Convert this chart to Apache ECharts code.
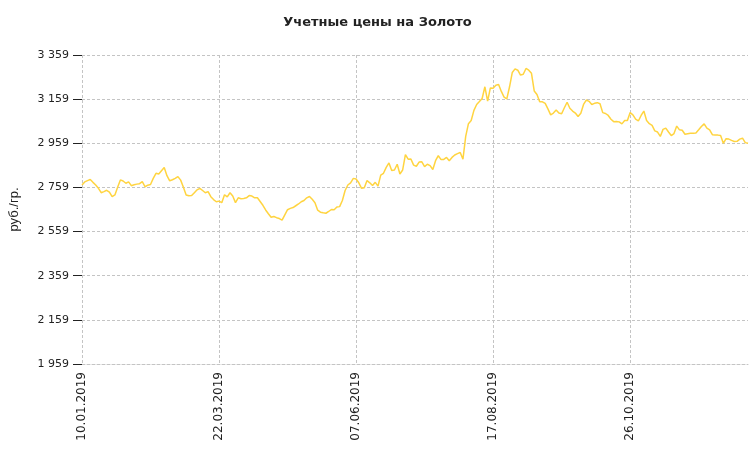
<!DOCTYPE html>
<html>
<head>
<meta charset="utf-8">
<script src="https://cdn.jsdelivr.net/npm/echarts@6/dist/echarts.min.js"></script>
<style>
html,body{margin:0;padding:0;background:#fff;}
#chart{width:755px;height:449px;}
</style>
</head>
<body>
<div id="chart"></div>
<script>
// Title / axis texts
const chartTitle = 'Учетные цены на Золото';
const yAxisName = 'руб./гр.';

// Tick settings
const yMin = 1959;
const yMax = 3359;
const yStep = 200;
const xLabelEvery = 50;

// Trading calendar (dates are effective dates = trading day + 1)
const firstTradingDay = '2019-01-09';
const holidays = ['2019-03-08','2019-05-01','2019-05-02','2019-05-03','2019-05-09','2019-05-10','2019-06-12','2019-11-04'];

// Gold prices, rub/gram
const prices = [
2770,2784,2790,2795,2782,2770,2755,2735,2740,2746,
2738,2717,2725,2760,2793,2788,2778,2784,2767,2771,
2774,2776,2785,2762,2769,2772,2800,2823,2820,2835,
2849,2812,2789,2794,2800,2808,2792,2760,2725,2721,
2722,2735,2748,2755,2745,2735,2740,2717,2704,2694,
2697,2690,2726,2716,2735,2720,2690,2712,2708,2709,
2712,2722,2720,2712,2712,2695,2678,2657,2640,2624,
2627,2622,2618,2611,2635,2658,2664,2668,2676,2684,
2694,2700,2712,2718,2705,2690,2656,2647,2644,2642,
2650,2659,2658,2670,2672,2700,2745,2770,2780,2800,
2797,2780,2755,2758,2790,2780,2768,2782,2765,2815,
2823,2850,2870,2836,2838,2864,2820,2838,2908,2887,
2888,2860,2855,2874,2875,2853,2864,2858,2840,2880,
2903,2885,2886,2895,2880,2895,2906,2912,2917,2887,
2990,3048,3062,3108,3135,3148,3162,3215,3150,3210,
3208,3222,3225,3194,3168,3160,3215,3280,3296,3290,
3268,3272,3298,3290,3276,3196,3180,3147,3147,3140,
3115,3088,3096,3110,3096,3093,3120,3145,3118,3105,
3096,3080,3095,3135,3155,3149,3135,3140,3143,3138,
3098,3094,3085,3068,3057,3058,3056,3047,3062,3062,
3098,3088,3068,3060,3085,3105,3062,3048,3040,3015,
3010,2990,3022,3028,3010,2994,3003,3037,3020,3018,
3000,3002,3004,3005,3006,3020,3035,3047,3028,3020,
2998,2997,2996,2994,2959,2980,2978,2972,2967,2968,
2978,2982,2962,2959
];

function pad(n){return n<10?'0'+n:''+n;}
function buildDates(count){
  const out = [];
  const d = new Date(firstTradingDay + 'T00:00:00Z');
  while (out.length < count) {
    const dow = d.getUTCDay();
    const iso = d.toISOString().slice(0,10);
    if (dow !== 0 && dow !== 6 && holidays.indexOf(iso) < 0) {
      const e = new Date(d.getTime() + 86400000);
      out.push(pad(e.getUTCDate()) + '.' + pad(e.getUTCMonth()+1) + '.' + e.getUTCFullYear());
    }
    d.setUTCDate(d.getUTCDate() + 1);
  }
  return out;
}
const dates = buildDates(prices.length);

function fmtThousands(v){
  const s = String(Math.round(v));
  return s.replace(/\B(?=(\d{3})+(?!\d))/g, ' ');
}

const chart = echarts.init(document.getElementById('chart'), null, {renderer:'canvas'});
chart.setOption({
  animation:false,
  backgroundColor:'#ffffff',
  title:{
    text: chartTitle,
    left:'center',
    top:11,
    textStyle:{fontFamily:'DejaVu Sans, sans-serif',fontSize:13,fontWeight:'bold',color:'#222'}
  },
  grid:{left:78,right:7,top:55,bottom:85,containLabel:false},
  xAxis:{
    type:'category',
    data:dates,
    boundaryGap:false,
    axisLine:{show:true,lineStyle:{color:'#c4c4c4',type:[3,2],width:1}},
    axisTick:{show:false},
    axisLabel:{
      interval:xLabelEvery-1,
      rotate:90,
      margin:8,
      color:'#222',
      fontFamily:'DejaVu Sans, sans-serif',
      fontSize:12
    },
    splitLine:{show:true,interval:xLabelEvery-1,lineStyle:{color:'#c4c4c4',type:[3,2],width:1}}
  },
  yAxis:{
    type:'value',
    min:yMin,
    max:yMax,
    interval:yStep,
    name:yAxisName,
    nameLocation:'middle',
    nameGap:61,
    nameRotate:90,
    nameTextStyle:{color:'#222',fontFamily:'Liberation Sans, Arial, sans-serif',fontSize:13},
    axisLine:{show:false},
    axisTick:{show:true,length:9,lineStyle:{color:'#222',width:1}},
    axisLabel:{
      color:'#222',
      fontFamily:'DejaVu Sans, sans-serif',
      fontSize:11,
      margin:13,
      formatter:fmtThousands
    },
    splitLine:{show:true,lineStyle:{color:'#c4c4c4',type:[3,2],width:1}}
  },
  series:[{
    type:'line',
    data:prices,
    showSymbol:false,
    symbol:'none',
    lineStyle:{color:'#ffd440',width:1.5},
    itemStyle:{color:'#ffd440'}
  }]
});
</script>
</body>
</html>
